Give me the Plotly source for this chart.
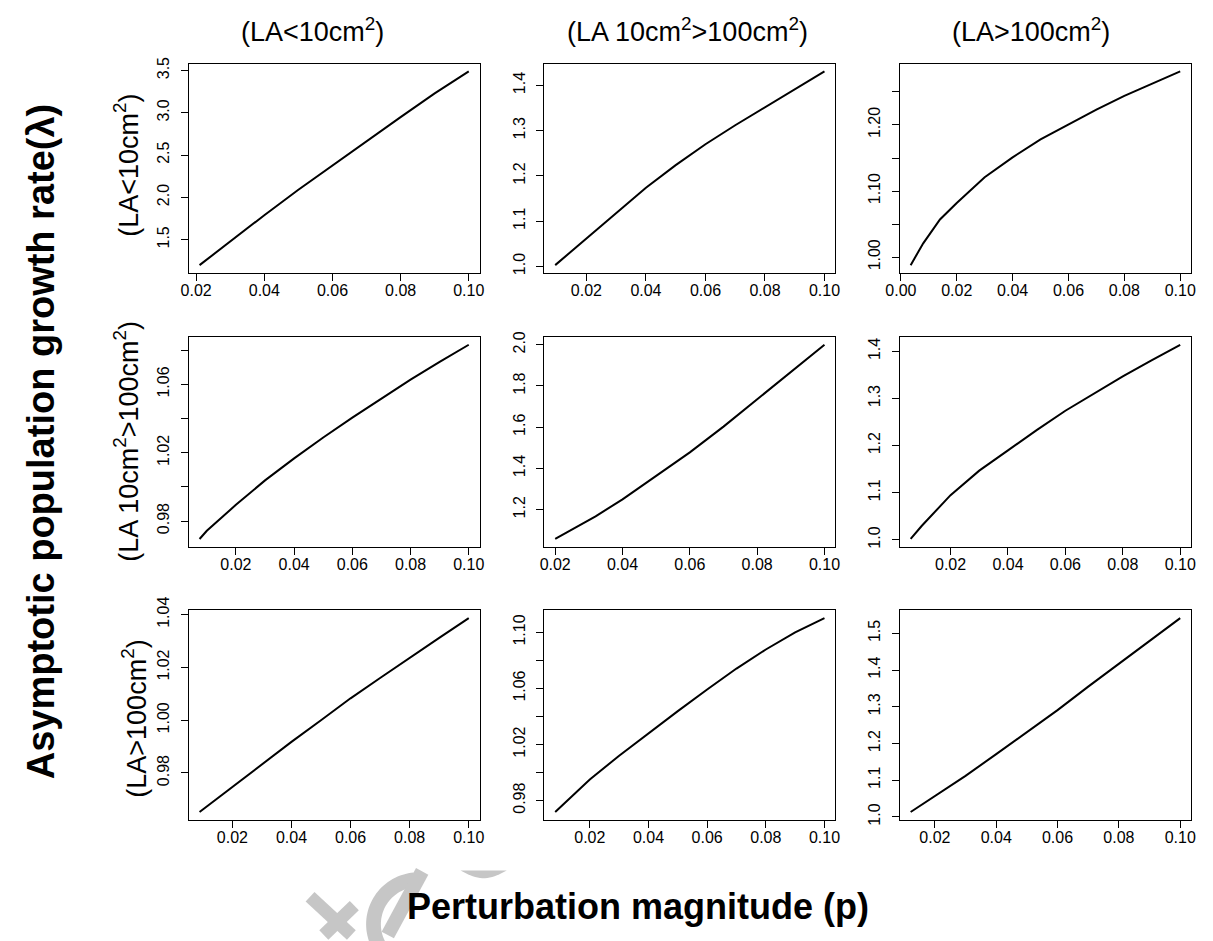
import numpy as np
import plotly.graph_objects as go

W, H = 1213, 941
FONT = "Liberation Sans, Arial, Helvetica, sans-serif"

# ---- lambda vs perturbation magnitude, one series per panel (row = perturbed stage, col = stage) ----
p_r1c1 = [0.021, 0.03, 0.04, 0.05, 0.06, 0.07, 0.08, 0.09, 0.10]
lam_r1c1 = [1.20, 1.48, 1.79, 2.09, 2.38, 2.67, 2.95, 3.23, 3.49]

p_r1c2 = [0.0095, 0.02, 0.03, 0.04, 0.05, 0.06, 0.07, 0.08, 0.09, 0.10]
lam_r1c2 = [1.003, 1.062, 1.120, 1.174, 1.224, 1.270, 1.312, 1.352, 1.392, 1.431]

p_r1c3 = [0.0035, 0.008, 0.014, 0.02, 0.03, 0.04, 0.05, 0.06, 0.07, 0.08, 0.09, 0.10]
lam_r1c3 = [0.988, 1.021, 1.057, 1.082, 1.121, 1.151, 1.178, 1.201, 1.223, 1.244, 1.263, 1.281]

p_r2c1 = [0.0075, 0.01, 0.02, 0.03, 0.04, 0.05, 0.06, 0.07, 0.08, 0.09, 0.10]
lam_r2c1 = [0.9695, 0.9743, 0.9895, 1.0038, 1.0167, 1.0289, 1.0405, 1.0518, 1.0628, 1.0732, 1.0832]

p_r2c2 = [0.02, 0.032, 0.04, 0.05, 0.06, 0.07, 0.08, 0.09, 0.10]
lam_r2c2 = [1.058, 1.168, 1.250, 1.362, 1.478, 1.603, 1.734, 1.866, 2.0]

p_r2c3 = [0.0061, 0.01, 0.02, 0.03, 0.04, 0.05, 0.06, 0.07, 0.08, 0.09, 0.10]
lam_r2c3 = [1.002, 1.030, 1.095, 1.147, 1.190, 1.233, 1.274, 1.311, 1.347, 1.381, 1.414]

p_r3c1 = [0.0089, 0.02, 0.03, 0.04, 0.05, 0.06, 0.07, 0.08, 0.09, 0.10]
lam_r3c1 = [0.9652, 0.9748, 0.9835, 0.9918, 1.0000, 1.0083, 1.0160, 1.0237, 1.0312, 1.0387]

p_r3c2 = [0.0082, 0.02, 0.03, 0.04, 0.05, 0.06, 0.07, 0.08, 0.09, 0.10]
lam_r3c2 = [0.9718, 0.995, 1.012, 1.028, 1.0438, 1.0593, 1.0742, 1.0878, 1.1000, 1.1102]

p_r3c3 = [0.0121, 0.02, 0.03, 0.04, 0.05, 0.06, 0.07, 0.08, 0.09, 0.10]
lam_r3c3 = [1.0133, 1.056, 1.112, 1.171, 1.230, 1.291, 1.355, 1.418, 1.480, 1.5416]

# ---- tick values / labels ----
xt_default = [0.02, 0.04, 0.06, 0.08, 0.10]
xt_from_zero = [0.00, 0.02, 0.04, 0.06, 0.08, 0.10]

yt_r1c1 = [1.5, 2.0, 2.5, 3.0, 3.5]
yl_r1c1 = ["1.5", "2.0", "2.5", "3.0", "3.5"]
yt_r1c2 = [1.0, 1.1, 1.2, 1.3, 1.4]
yl_r1c2 = ["1.0", "1.1", "1.2", "1.3", "1.4"]
yt_r1c3 = [1.00, 1.05, 1.10, 1.15, 1.20, 1.25]
yl_r1c3 = ["1.00", "", "1.10", "", "1.20", ""]
yt_r2c1 = [0.98, 1.00, 1.02, 1.04, 1.06, 1.08]
yl_r2c1 = ["0.98", "", "1.02", "", "1.06", ""]
yt_r2c2 = [1.2, 1.4, 1.6, 1.8, 2.0]
yl_r2c2 = ["1.2", "1.4", "1.6", "1.8", "2.0"]
yt_r2c3 = [1.0, 1.1, 1.2, 1.3, 1.4]
yl_r2c3 = ["1.0", "1.1", "1.2", "1.3", "1.4"]
yt_r3c1 = [0.98, 1.00, 1.02, 1.04]
yl_r3c1 = ["0.98", "1.00", "1.02", "1.04"]
yt_r3c2 = [0.98, 1.00, 1.02, 1.04, 1.06, 1.08, 1.10]
yl_r3c2 = ["0.98", "", "1.02", "", "1.06", "", "1.10"]
yt_r3c3 = [1.0, 1.1, 1.2, 1.3, 1.4, 1.5]
yl_r3c3 = ["1.0", "1.1", "1.2", "1.3", "1.4", "1.5"]

stage_labels = ["(LA<10cm<sup>2</sup>)",
                "(LA 10cm<sup>2</sup>>100cm<sup>2</sup>)",
                "(LA>100cm<sup>2</sup>)"]

panels = [
    (p_r1c1, lam_r1c1, xt_default, yt_r1c1, yl_r1c1),
    (p_r1c2, lam_r1c2, xt_default, yt_r1c2, yl_r1c2),
    (p_r1c3, lam_r1c3, xt_from_zero, yt_r1c3, yl_r1c3),
    (p_r2c1, lam_r2c1, xt_default, yt_r2c1, yl_r2c1),
    (p_r2c2, lam_r2c2, xt_default, yt_r2c2, yl_r2c2),
    (p_r2c3, lam_r2c3, xt_default, yt_r2c3, yl_r2c3),
    (p_r3c1, lam_r3c1, xt_default, yt_r3c1, yl_r3c1),
    (p_r3c2, lam_r3c2, xt_default, yt_r3c2, yl_r3c2),
    (p_r3c3, lam_r3c3, xt_default, yt_r3c3, yl_r3c3),
]

# panel boxes in pixels (left, right) and (top, bottom)
col_px = [(176.7, 472.3), (538.3, 834.0), (899.7, 1195.7)]
row_px = [(50.7, 264.5), (330.0, 544.3), (609.3, 823.3)]


def padded(v):
    lo, hi = min(v), max(v)
    pad = 0.04 * (hi - lo)
    return [lo - pad, hi + pad]


fig = go.Figure()
layout_axes = {}
for k, (px, lam, xt, yt, yl) in enumerate(panels):
    r, c = divmod(k, 3)
    n = k + 1
    xa = "x" if n == 1 else f"x{n}"
    ya = "y" if n == 1 else f"y{n}"
    fig.add_trace(go.Scatter(x=px, y=lam, mode="lines", xaxis=xa, yaxis=ya,
                             line=dict(color="black", width=2), showlegend=False,
                             hoverinfo="skip"))
    common = dict(showline=True, mirror=True, linecolor="black", linewidth=1,
                  ticks="outside", ticklen=7, tickwidth=1, tickcolor="black",
                  showgrid=False, zeroline=False,
                  tickfont=dict(family=FONT, size=16, color="black"))
    xl, xr = col_px[c]
    yt_px, yb_px = row_px[r]
    layout_axes["xaxis" if n == 1 else f"xaxis{n}"] = dict(
        domain=[xl / W, xr / W], anchor=ya, range=padded(px),
        tickvals=xt, ticktext=[f"{v:.2f}" for v in xt], ticklabelstandoff=-4, **common)
    layout_axes["yaxis" if n == 1 else f"yaxis{n}"] = dict(
        domain=[1 - yb_px / H, 1 - yt_px / H], anchor=xa, range=padded(lam),
        tickvals=yt, ticktext=yl, tickangle=-90, ticklabelstandoff=5, **common)

fig.update_layout(**layout_axes)

annotations = []
# column headers
for cx, lab in zip([302, 684, 1033], stage_labels):
    annotations.append(dict(x=cx / W, y=1 - 16 / H, xref="paper", yref="paper",
                            text=lab, showarrow=False, xanchor="center", yanchor="middle",
                            font=dict(family=FONT, size=27, color="black")))
# row labels
for (rx, ry), lab in zip([(113, 155), (113, 437), (121, 720)], stage_labels):
    annotations.append(dict(x=rx / W, y=1 - ry / H, xref="paper", yref="paper",
                            text=lab, showarrow=False, textangle=-90,
                            xanchor="center", yanchor="middle",
                            font=dict(family=FONT, size=27, color="black")))
# overall axis titles
annotations.append(dict(x=633 / W, y=1 - 912 / H, xref="paper", yref="paper",
                        text="<b>Perturbation magnitude (p)</b>", showarrow=False,
                        xanchor="center", yanchor="middle",
                        font=dict(family=FONT, size=36, color="black")))
annotations.append(dict(x=26 / W, y=1 - 437 / H, xref="paper", yref="paper",
                        text="<b>Asymptotic population growth rate(λ)</b>", showarrow=False,
                        textangle=-90, xanchor="center", yanchor="middle",
                        font=dict(family=FONT, size=38, color="black")))


# faint grey publisher watermark behind the x-axis title
def to_paper(pts):
    return [(x / W, 1 - y / H) for x, y in pts]


def poly_path(pts):
    pp = to_paper(pts)
    return "M " + " L ".join(f"{x:.5f},{y:.5f}" for x, y in pp) + " Z"


GREY = "#c6c6c6"
shapes = []
# crossed strokes
for (x0, y0, x1, y1) in [(300, 902, 342, 941), (345, 911, 314, 941)]:
    a, b = to_paper([(x0, y0), (x1, y1)])
    shapes.append(dict(type="line", xref="paper", yref="paper", x0=a[0], y0=a[1],
                       x1=b[0], y1=b[1], line=dict(color=GREY, width=13), layer="below"))
# open ring, flattened where it meets the top edge of the mark
cx0, cy0, ro, ri = 410, 930, 53, 38
ang = np.linspace(np.radians(95), np.radians(275), 60)
outer = [(cx0 + ro * np.cos(t), max(875, cy0 - ro * np.sin(t))) for t in ang]
inner = [(cx0 + ri * np.cos(t), max(875, cy0 - ri * np.sin(t))) for t in ang[::-1]]
shapes.append(dict(type="path", xref="paper", yref="paper", path=poly_path(outer + inner),
                   fillcolor=GREY, line=dict(width=0), layer="below"))
a, b = to_paper([(379, 941), (414, 876)])
shapes.append(dict(type="line", xref="paper", yref="paper", x0=a[0], y0=a[1],
                   x1=b[0], y1=b[1], line=dict(color=GREY, width=14), layer="below"))
arc = [(453, 875), (500, 875)] + [(500 - t, 875 + 8 * np.sin(np.pi * t / 47)) for t in np.linspace(0, 47, 20)]
shapes.append(dict(type="path", xref="paper", yref="paper", path=poly_path(arc),
                   fillcolor=GREY, line=dict(width=0), layer="below"))

fig.update_layout(width=W, height=H, margin=dict(l=0, r=0, t=0, b=0),
                  paper_bgcolor="white", plot_bgcolor="rgba(0,0,0,0)",
                  annotations=annotations, shapes=shapes,
                  font=dict(family=FONT, color="black"))

fig.write_html("out.html")
